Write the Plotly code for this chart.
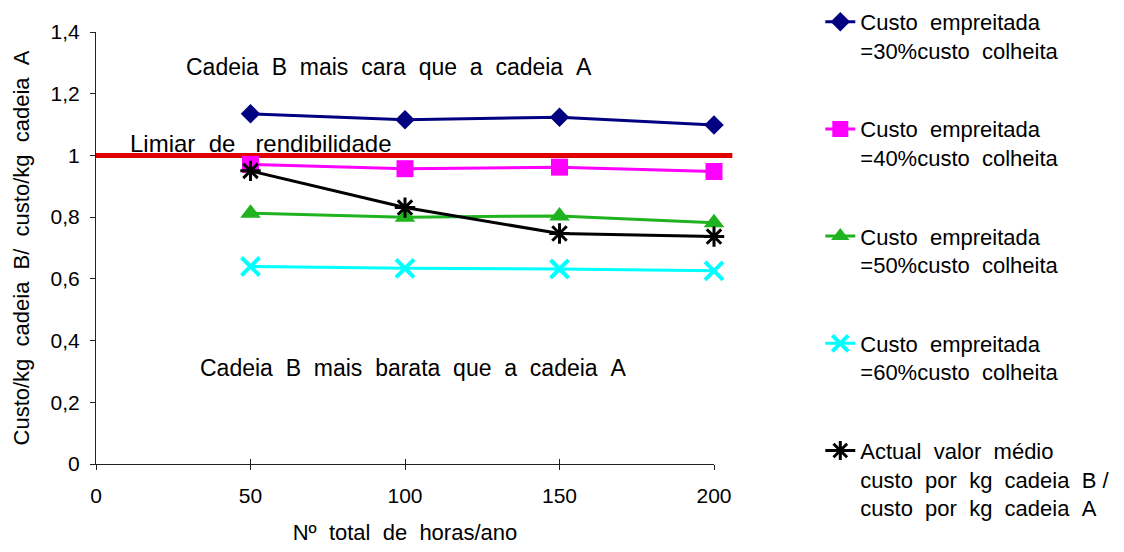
import plotly.graph_objects as go

# ---- data ----
horas = [50, 100, 150, 200]
s30 = [1.135, 1.116, 1.124, 1.099]
s40 = [0.971, 0.957, 0.962, 0.948]
s50 = [0.813, 0.800, 0.804, 0.782]
s60 = [0.640, 0.634, 0.632, 0.626]
actual = [0.950, 0.831, 0.747, 0.737]
limiar = 1.0

SP = " \u00a0"
names = [
    f"Custo{SP}empreitada<br>=30%custo{SP}colheita",
    f"Custo{SP}empreitada<br>=40%custo{SP}colheita",
    f"Custo{SP}empreitada<br>=50%custo{SP}colheita",
    f"Custo{SP}empreitada<br>=60%custo{SP}colheita",
    f"Actual{SP}valor{SP}médio<br>custo{SP}por{SP}kg{SP}cadeia{SP}B /<br>custo{SP}por{SP}kg{SP}cadeia{SP}A",
]

FONT = "Liberation Sans, Arial, sans-serif"

fig = go.Figure()
series = [
    (s30, "#000080", dict(symbol="diamond", size=15, color="#000080")),
    (s40, "#ff00ff", dict(symbol="square", size=17, color="#ff00ff")),
    (s50, "#1fb41f", dict(symbol="triangle-up", size=18, color="#1fb41f")),
    (s60, "#00ffff", dict(symbol="x-thin-open", size=18, color="#00ffff", line=dict(width=4, color="#00ffff"))),
    (actual, "#000000", dict(symbol="asterisk-open", size=17, color="#000000", line=dict(width=3, color="#000000"))),
]
for i, (vals, col, mk) in enumerate(series):
    fig.add_trace(go.Scatter(
        x=horas, y=vals, mode="lines+markers", name=names[i],
        line=dict(color=col, width=3), marker=mk, legendgroup=f"g{i}",
        cliponaxis=False,
    ))

# threshold line
fig.add_shape(type="line", xref="paper", yref="y", x0=0, x1=1.0297, y0=limiar, y1=limiar,
              line=dict(color="#e00000", width=5), layer="below")

# overlay axis for crossing x ticks
fig.add_trace(go.Scatter(x=[None], y=[None], xaxis="x2", showlegend=False, hoverinfo="skip"))

fig.update_layout(
    width=1116, height=544,
    margin=dict(l=88, r=410, t=24, b=88, autoexpand=False),
    paper_bgcolor="white", plot_bgcolor="white",
    separators=", ",
    font=dict(family=FONT, size=20, color="black"),
    showlegend=True,
    legend=dict(
        x=1.172, y=1.072, xanchor="left", yanchor="top", yref="paper",
        valign="top", tracegroupgap=47, font=dict(size=22, family=FONT),
        bgcolor="rgba(0,0,0,0)", itemwidth=30, maxheight=600,
    ),
    xaxis=dict(
        range=[0, 200], tickvals=[0, 50, 100, 150, 200], showgrid=False, zeroline=False,
        showline=True, linecolor="#222", linewidth=1, ticks="outside", ticklen=5,
        tickcolor="#222", tickfont=dict(size=21), ticklabelstandoff=8, automargin=False,
        title=dict(text=f"Nº{SP}total{SP}de{SP}horas/ano", font=dict(size=22), standoff=18),
    ),
    xaxis2=dict(
        range=[0, 200], overlaying="x", tickvals=[0, 50, 100, 150, 200], showticklabels=False,
        ticks="inside", ticklen=5, tickcolor="#222", showgrid=False, zeroline=False,
        showline=False, side="bottom", anchor="y", automargin=False,
    ),
    yaxis=dict(
        range=[0, 1.4], dtick=0.2, tick0=0, showgrid=False, zeroline=False,
        showline=True, linecolor="#222", linewidth=1, ticks="outside", ticklen=5,
        tickcolor="#222", tickfont=dict(size=21), ticklabelstandoff=6, automargin=False,
        title=dict(text=f"Custo/kg{SP}cadeia{SP}B/{SP}custo/kg{SP}cadeia{SP}A", font=dict(size=22), standoff=14),
    ),
    annotations=[
        dict(text=f"Cadeia{SP}B{SP}mais{SP}cara{SP}que{SP}a{SP}cadeia{SP}A", x=28.6, y=1.288,
             xref="x", yref="y", xanchor="left", yanchor="middle", showarrow=False, font=dict(size=23)),
        dict(text=f"Limiar{SP}de{SP}\u00a0rendibilidade", x=10.5, y=1.039,
             xref="x", yref="y", xanchor="left", yanchor="middle", showarrow=False, font=dict(size=24)),
        dict(text=f"Cadeia{SP}B{SP}mais{SP}barata{SP}que{SP}a{SP}cadeia{SP}A", x=33.1, y=0.311,
             xref="x", yref="y", xanchor="left", yanchor="middle", showarrow=False, font=dict(size=23)),
    ],
)

fig.write_html("out.html")
